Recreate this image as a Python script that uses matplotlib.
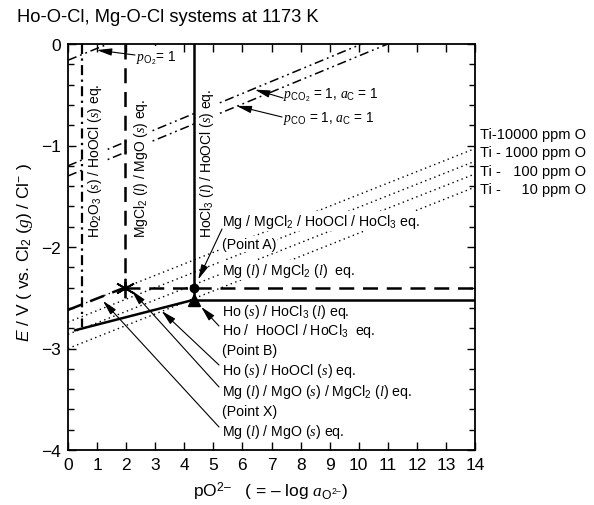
import numpy as np
import matplotlib
matplotlib.use('Agg')
import matplotlib.pyplot as plt
from matplotlib.ticker import MultipleLocator

plt.rcParams['font.family'] = ['Liberation Sans', 'DejaVu Sans']
plt.rcParams['mathtext.fontset'] = 'custom'
plt.rcParams['mathtext.rm'] = 'Liberation Sans'
plt.rcParams['mathtext.it'] = 'Liberation Serif:italic'
plt.rcParams['mathtext.sf'] = 'Liberation Sans:italic'
plt.rcParams['mathtext.bf'] = 'Liberation Sans:bold'

# chart values (pO2-, E / V)
x_max = 14
ho2o3_hoocl_x = 0.47
mgcl2_mgo_x = 1.95
hocl3_hoocl_x = 4.33
point_a = (4.33, -2.40)          # Mg / MgCl2 / HoOCl / HoCl3
point_b = (4.33, -2.52)          # Ho / HoOCl / HoCl3
point_x = (1.95, -2.40)          # Mg / MgO / MgCl2
ho_hoocl_x = [0.25, 4.33]
ho_hoocl_e = [-2.82, -2.52]
mg_mgo_x = [0.0, 1.95]
mg_mgo_e = [-2.62, -2.40]
po2_x = [0.0, 1.37]
po2_e = [-0.16, 0.0]
pco2_x = [0.0, 10.1]
pco2_e = [-1.20, 0.0]
pco_x = [0.0, 11.0]
pco_e = [-1.30, 0.0]
ti_labels = ['Ti-10000 ppm O', 'Ti - 1000 ppm O', 'Ti -   100 ppm O', 'Ti -     10 ppm O']
ti_left = [-2.62, -2.74, -2.86, -3.00]
ti_right = [-1.03, -1.155, -1.28, -1.41]

W, H = 594, 506
fig = plt.figure(figsize=(W / 100, H / 100), dpi=100)
ax = fig.add_axes([68 / W, 1 - 451 / H, (475 - 68) / W, (451 - 45) / H])


def fp(px, py):
    # figure pixel position measured from the top left
    return (px, H - py)


k = 'black'
dashdotdot = (0, (6, 2.5, 1.2, 2.5, 1.2, 2.5))

# Ti-O lines
for yl, yr in zip(ti_left, ti_right):
    ax.plot([0, x_max], [yl, yr], color=k, lw=1.0, linestyle=(0, (1, 2.5)), zorder=1)

# O2, CO2, CO lines
ax.plot(po2_x, po2_e, color=k, lw=1.1, linestyle=dashdotdot, zorder=1)
ax.plot(pco2_x, pco2_e, color=k, lw=1.1, linestyle=dashdotdot, zorder=1)
ax.plot(pco_x, pco_e, color=k, lw=1.1, linestyle=dashdotdot, zorder=1)

# Ho lines
ax.plot([ho2o3_hoocl_x, ho2o3_hoocl_x], [0, -2.79], color=k, lw=1.6,
        linestyle=(0, (4.5, 2, 1, 2)), zorder=6)
ax.plot([hocl3_hoocl_x, hocl3_hoocl_x], [0, point_b[1]], color=k, lw=1.8, zorder=6)
ax.plot(ho_hoocl_x, ho_hoocl_e, color=k, lw=1.8, zorder=6)
ax.plot([point_b[0], x_max], [point_b[1], point_b[1]], color=k, lw=1.8, zorder=6)

# Mg lines
ax.plot([mgcl2_mgo_x, mgcl2_mgo_x], [0, point_x[1]], color=k, lw=1.8,
        linestyle=(0, (6, 3.5)), zorder=6)
ax.plot([point_x[0], x_max], [point_x[1], point_x[1]], color=k, lw=1.8,
        linestyle=(0, (6, 3.5)), zorder=6)
ax.plot(mg_mgo_x, mg_mgo_e, color=k, lw=1.8, linestyle=(0, (6, 3.5)), zorder=6)

# points
ax.plot(*point_a, marker='o', ms=6, color=k, zorder=7)
ax.plot(*point_b, marker='^', ms=9, color=k, zorder=7)
ax.plot(*point_x, marker=(6, 2, 0), ms=14, mew=1.3, color=k, zorder=7)

ax.set_xlim(0, x_max)
ax.set_ylim(-4, 0)
ax.xaxis.set_major_locator(MultipleLocator(1))
ax.yaxis.set_major_locator(MultipleLocator(1))
ax.yaxis.set_minor_locator(MultipleLocator(0.2))
ax.tick_params(which='both', direction='in', top=True, right=True, labelsize=12.5,
               width=1.0, color=k)
ax.tick_params(which='major', length=6, pad=5)
ax.tick_params(which='minor', length=4)
for s in ax.spines.values():
    s.set_linewidth(1.3)

# vertical labels
box = dict(facecolor='white', edgecolor='none', pad=1.5)
fs = 10.2
ax.text(*fp(95.5, 238), r'Ho$_2$O$_3$ ($s$) / HoOCl ($s$) eq.', transform=None,
        rotation=90, ha='center', va='bottom', fontsize=10, bbox=box, zorder=4)
ax.text(*fp(141, 238), r'MgCl$_2$ ($l$) / MgO ($s$) eq.', transform=None,
        rotation=90, ha='center', va='bottom', fontsize=10, bbox=box, zorder=4)
ax.text(*fp(207.5, 238), r'HoCl$_3$ ($l$) / HoOCl ($s$) eq.', transform=None,
        rotation=90, ha='center', va='bottom', fontsize=10, bbox=box, zorder=4)

# gas line labels
ax.text(*fp(136, 58), r'$p_{\mathrm{O_2}}$= 1', transform=None, va='center',
        fontsize=9.8, bbox=box, zorder=4)
ax.text(*fp(283, 95), r'$p_{\mathrm{CO_2}}$ = 1, $a_{\mathrm{C}}$ = 1', transform=None,
        va='center', fontsize=9.8, zorder=4)
ax.text(*fp(283, 119), r'$p_{\mathrm{CO}}$ = 1, $a_{\mathrm{C}}$ = 1', transform=None,
        va='center', fontsize=9.8, zorder=4)

# equilibrium labels
labels = [
    (222, r'Mg / MgCl$_2$ / HoOCl / HoCl$_3$ eq.'),
    (245, '(Point A)'),
    (271, r'Mg ($l$) / MgCl$_2$ ($l$)  eq.'),
    (312, r'Ho ($s$) / HoCl$_3$ ($l$) eq.'),
    (331, r'Ho /  HoOCl / HoCl$_3$  eq.'),
    (351, '(Point B)'),
    (371, r'Ho ($s$) / HoOCl ($s$) eq.'),
    (392, r'Mg ($l$) / MgO ($s$) / MgCl$_2$ ($l$) eq.'),
    (412, '(Point X)'),
    (432, r'Mg ($l$) / MgO ($s$) eq.'),
]
tbox = dict(facecolor='white', edgecolor='none', pad=0.5)
for py, s in labels:
    ax.text(*fp(222, py), s, transform=None, va='center', fontsize=fs, bbox=tbox, zorder=4)

for py, s in zip([135, 153, 172, 190], ti_labels):
    fig.text(480 / W, 1 - py / H, s, va='center', fontsize=10.5)

# arrows
arrows = [
    ((135, 56), (0.99, -0.06)),
    ((283, 99), (6.43, -0.45)),
    ((282, 118), (5.80, -0.61)),
    ((222, 230), (4.48, -2.32)),
    ((219, 327), (4.58, -2.59)),
    ((219, 366), (3.22, -2.63)),
    ((219, 388), (2.19, -2.43)),
    ((219, 428), (1.20, -2.53)),
]
for start, tip in arrows:
    ax.annotate('', xy=tip, xytext=fp(*start), textcoords='figure pixels',
                arrowprops=dict(arrowstyle='-|>,head_width=0.22,head_length=0.9',
                                lw=0.8, color=k, shrinkA=0, shrinkB=0,
                                mutation_scale=10), zorder=8)

fig.text(17 / W, 1 - 18 / H, 'Ho-O-Cl, Mg-O-Cl systems at 1173 K', va='center',
         fontsize=13.2)
fig.text(270 / W, 1 - 492 / H,
         'pO$^{2\u2013}$   ( = \u2013 log $a_{\\mathrm{O^{2\u2013}}}$)',
         ha='center', va='center', fontsize=12.5)
fig.text(25 / W, 1 - 252 / H,
         r'$\mathsf{E}$ / V ( vs. Cl$_2$ ($g$) / Cl$^{-}$ )',
         rotation=90, ha='center', va='center', fontsize=12.5)

fig.savefig('out.png', dpi=100)
